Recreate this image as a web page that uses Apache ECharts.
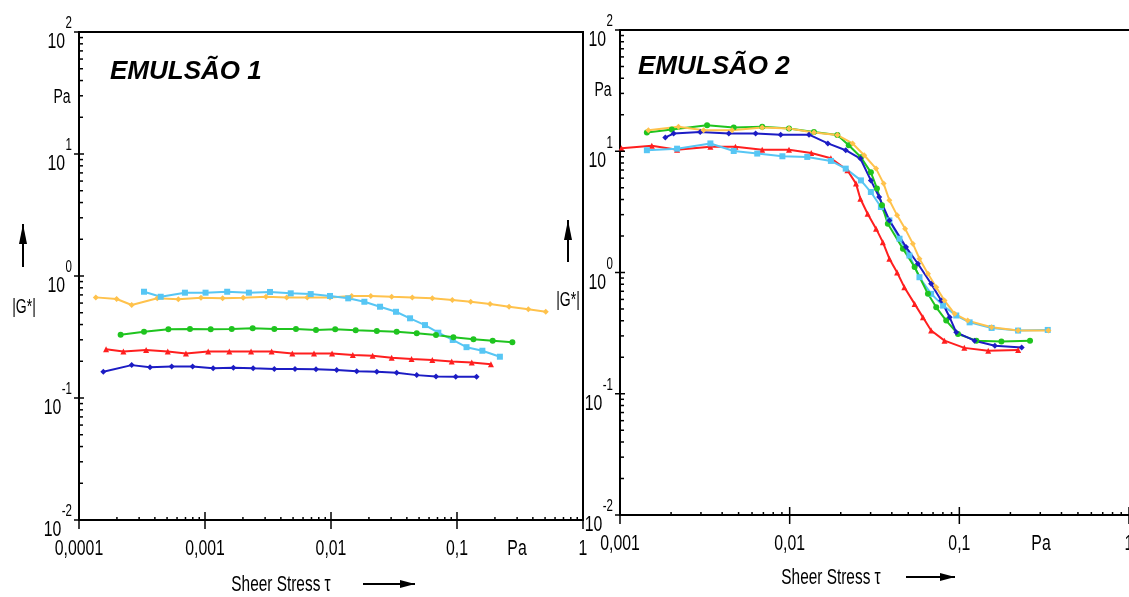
<!DOCTYPE html>
<html>
<head>
<meta charset="utf-8">
<script src="https://cdn.jsdelivr.net/npm/echarts@6/dist/echarts.min.js"></script>
<style>
html,body{margin:0;padding:0;background:#fff;}
#chart{width:1129px;height:597px;}
</style>
</head>
<body>
<div id="chart"></div>
<script>
// ---------- DATA ----------
const xTickValues1 = [0.0001, 0.001, 0.01, 0.1, 1];
const xTickLabels1 = ['0,0001', '0,001', '0,01', '0,1', '1'];
const xTickValues2 = [0.001, 0.01, 0.1, 1];
const xTickLabels2 = ['0,001', '0,01', '0,1', '1'];
const yTickValues = [0.01, 0.1, 1, 10, 100];
const yTickExps = ['-2', '-1', '0', '1', '2'];

const panelTitles = ['EMULSÃO 1', 'EMULSÃO 2'];
const xAxisTitle = 'Sheer Stress τ';
const yAxisTitle = '|G*|';
const unitLabel = 'Pa';

// EMULSÃO 1
const e1_orange_x = [1.36e-4, 1.99e-4, 2.62e-4, 4.18e-4, 6.14e-4, 9.29e-4, 1.38e-3, 2.01e-3, 3.05e-3, 4.45e-3, 6.48e-3, 9.82e-3, 0.0146, 0.0207, 0.0303, 0.0442, 0.0637, 0.0918, 0.1285, 0.183, 0.259, 0.368, 0.506];
const e1_orange_y = [0.668, 0.648, 0.578, 0.656, 0.644, 0.664, 0.656, 0.664, 0.676, 0.668, 0.668, 0.668, 0.686, 0.686, 0.676, 0.668, 0.656, 0.635, 0.615, 0.589, 0.560, 0.533, 0.510];
const e1_lblue_x = [3.28e-4, 4.45e-4, 6.93e-4, 1.01e-3, 1.50e-3, 2.23e-3, 3.28e-3, 4.79e-3, 6.90e-3, 9.82e-3, 0.0137, 0.0184, 0.0245, 0.0328, 0.0424, 0.0557, 0.0711, 0.0925, 0.119, 0.159, 0.219];
const e1_lblue_y = [0.743, 0.676, 0.730, 0.730, 0.743, 0.730, 0.740, 0.721, 0.711, 0.686, 0.656, 0.615, 0.560, 0.509, 0.450, 0.396, 0.343, 0.299, 0.261, 0.244, 0.218];
const e1_green_x = [2.14e-4, 3.28e-4, 5.12e-4, 7.60e-4, 1.11e-3, 1.63e-3, 2.39e-3, 3.55e-3, 5.27e-3, 7.60e-3, 0.0108, 0.0157, 0.0231, 0.0332, 0.0479, 0.0681, 0.0936, 0.135, 0.192, 0.275];
const e1_green_y = [0.330, 0.349, 0.366, 0.368, 0.366, 0.368, 0.373, 0.368, 0.368, 0.361, 0.366, 0.359, 0.354, 0.349, 0.339, 0.328, 0.315, 0.303, 0.295, 0.286];
const e1_red_x = [1.64e-4, 2.25e-4, 3.41e-4, 5.06e-4, 7.06e-4, 1.06e-3, 1.56e-3, 2.32e-3, 3.38e-3, 4.93e-3, 7.33e-3, 0.0102, 0.0149, 0.0214, 0.0303, 0.0436, 0.0637, 0.0908, 0.131, 0.186];
const e1_red_y = [0.251, 0.240, 0.247, 0.240, 0.232, 0.240, 0.240, 0.240, 0.240, 0.232, 0.232, 0.232, 0.225, 0.222, 0.214, 0.209, 0.205, 0.199, 0.195, 0.189];
const e1_blue_x = [1.56e-4, 2.62e-4, 3.66e-4, 5.44e-4, 7.98e-4, 1.16e-3, 1.68e-3, 2.41e-3, 3.55e-3, 5.18e-3, 7.60e-3, 0.0111, 0.0160, 0.0231, 0.0332, 0.0479, 0.0681, 0.0977, 0.143];
const e1_blue_y = [0.164, 0.186, 0.179, 0.181, 0.181, 0.175, 0.177, 0.175, 0.173, 0.173, 0.172, 0.170, 0.166, 0.164, 0.161, 0.154, 0.150, 0.149, 0.149];

// EMULSÃO 2
const e2_red_x = [1.02e-3, 1.54e-3, 2.17e-3, 3.41e-3, 4.79e-3, 6.89e-3, 9.91e-3, 0.0134, 0.0175, 0.0219, 0.0246, 0.0261, 0.0288, 0.0323, 0.0354, 0.0387, 0.0430, 0.0474, 0.0545, 0.0610, 0.0682, 0.0818, 0.107, 0.148, 0.222];
const e2_red_y = [10.6, 11.1, 10.3, 10.9, 10.9, 10.3, 10.3, 9.68, 8.75, 6.97, 5.41, 4.06, 3.05, 2.30, 1.78, 1.30, 1.00, 0.757, 0.551, 0.427, 0.332, 0.274, 0.239, 0.226, 0.230];
const e2_lblue_x = [1.44e-3, 2.17e-3, 3.41e-3, 4.68e-3, 6.44e-3, 9.06e-3, 0.0127, 0.0175, 0.0214, 0.0263, 0.0301, 0.0345, 0.0387, 0.0444, 0.0508, 0.0582, 0.0682, 0.0802, 0.0959, 0.115, 0.155, 0.222, 0.332];
const e2_lblue_y = [10.2, 10.5, 11.6, 10.05, 9.57, 9.09, 8.98, 8.32, 7.19, 5.75, 4.61, 3.47, 2.69, 1.90, 1.38, 0.914, 0.667, 0.533, 0.442, 0.388, 0.349, 0.332, 0.336];
const e2_green_x = [1.44e-3, 2.02e-3, 3.26e-3, 4.68e-3, 6.89e-3, 9.91e-3, 0.0139, 0.0191, 0.0223, 0.0263, 0.0301, 0.0327, 0.0350, 0.0379, 0.0465, 0.0545, 0.0653, 0.0731, 0.0837, 0.0982, 0.126, 0.177, 0.261];
const e2_green_y = [14.3, 15.1, 16.4, 15.7, 15.9, 15.4, 14.4, 13.6, 11.2, 8.91, 6.70, 4.94, 3.58, 2.52, 1.57, 1.11, 0.667, 0.516, 0.401, 0.311, 0.274, 0.270, 0.274];
const e2_blue_x = [1.85e-3, 2.07e-3, 2.97e-3, 4.38e-3, 6.30e-3, 8.85e-3, 0.0130, 0.0168, 0.0214, 0.0261, 0.0301, 0.0337, 0.0387, 0.0485, 0.0570, 0.0682, 0.0782, 0.0877, 0.0959, 0.123, 0.162, 0.233];
const e2_blue_y = [13.0, 14.0, 14.4, 14.0, 14.0, 13.7, 13.7, 11.6, 10.2, 8.71, 5.75, 4.19, 2.69, 1.62, 1.18, 0.807, 0.587, 0.427, 0.321, 0.274, 0.249, 0.241];
const e2_orange_x = [1.47e-3, 2.21e-3, 3.11e-3, 4.58e-3, 6.89e-3, 9.91e-3, 0.0139, 0.0191, 0.0235, 0.0275, 0.0323, 0.0358, 0.0387, 0.0430, 0.0479, 0.0532, 0.0582, 0.0653, 0.0731, 0.0818, 0.0938, 0.112, 0.155, 0.222, 0.335];
const e2_orange_y = [14.9, 15.9, 14.9, 14.9, 15.7, 15.4, 14.3, 13.6, 11.6, 9.27, 7.19, 5.41, 3.94, 2.96, 2.30, 1.73, 1.30, 0.976, 0.757, 0.587, 0.456, 0.401, 0.353, 0.332, 0.332];

// ---------- STYLE ----------
const C = {orange:'#FFC24C', lblue:'#57C6F4', green:'#1FC41F', red:'#FF1F1F', blue:'#1C1CC4'};
const SYM = {orange:'diamond', lblue:'rect', green:'circle', red:'triangle', blue:'diamond'};
const FAM = "'Liberation Sans', Arial, sans-serif";
const SQUEEZE = 0.72;

function zip(xs, ys){ return xs.map((x,i)=>[x, ys[i]]); }
function mk(name, key, xs, ys, gi){
  return {
    name: name, type:'line', xAxisIndex: gi, yAxisIndex: gi,
    data: zip(xs, ys), symbol: SYM[key], symbolSize: 6,
    lineStyle:{color:C[key], width:2}, itemStyle:{color:C[key]},
    animation:false, z: 3
  };
}
function expOf(v){ return Math.round(Math.log10(v)); }

function xAxisDef(gi, min, max){
  return {
    type:'log', logBase:10, gridIndex:gi, min:min, max:max, position:'bottom',
    axisLine:{show:true, onZero:false, lineStyle:{color:'#000', width:2}},
    axisTick:{show:false}, splitLine:{show:false}, minorTick:{show:false},
    axisLabel:{show:false}
  };
}
function yAxisDef(gi){
  return {
    type:'log', logBase:10, gridIndex:gi, min:0.01, max:100,
    axisLine:{show:true, onZero:false, lineStyle:{color:'#000', width:2}},
    axisTick:{show:false}, splitLine:{show:false}, axisLabel:{show:false}
  };
}

const chart = echarts.init(document.getElementById('chart'), null, {renderer:'canvas'});
const option = {
  animation:false,
  backgroundColor:'#fff',
  grid:[
    {left:79, top:32, width:504, height:488, show:true, borderColor:'#000', borderWidth:2, backgroundColor:'transparent'},
    {left:620, top:30, width:509, height:485, show:false}
  ],
  xAxis:[
    xAxisDef(0, 0.0001, 1),
    xAxisDef(1, 0.001, 1),
    {type:'log', logBase:10, gridIndex:1, min:0.001, max:1, position:'top',
     axisLine:{show:true, onZero:false, lineStyle:{color:'#000', width:2}},
     axisTick:{show:false}, axisLabel:{show:false}, splitLine:{show:false}}
  ],
  yAxis:[ yAxisDef(0), yAxisDef(1) ],
  series:[
    mk('orange', 'orange', e1_orange_x, e1_orange_y, 0),
    mk('lightblue', 'lblue', e1_lblue_x, e1_lblue_y, 0),
    mk('green', 'green', e1_green_x, e1_green_y, 0),
    mk('red', 'red', e1_red_x, e1_red_y, 0),
    mk('blue', 'blue', e1_blue_x, e1_blue_y, 0),
    mk('red', 'red', e2_red_x, e2_red_y, 1),
    mk('lightblue', 'lblue', e2_lblue_x, e2_lblue_y, 1),
    mk('green', 'green', e2_green_x, e2_green_y, 1),
    mk('blue', 'blue', e2_blue_x, e2_blue_y, 1),
    mk('orange', 'orange', e2_orange_x, e2_orange_y, 1)
  ]
};
chart.setOption(option);

// ---------- decorations: ticks and labels placed through the axis scales ----------
const g = [];
function line(x1,y1,x2,y2,w){
  g.push({type:'line', silent:true, z:10, shape:{x1:x1,y1:y1,x2:x2,y2:y2}, style:{stroke:'#000', lineWidth:w||1.5}});
}
function text(t, x, y, size, align, sx, weight){
  g.push({type:'text', silent:true, z:10, x:x, y:y, scaleX: (sx==null ? SQUEEZE : sx),
    style:{text:t, x:0, y:0, font:(weight||'') + ' ' + size + 'px ' + FAM, fill:'#000',
      textAlign:align||'left', align:align||'left', textVerticalAlign:'middle', verticalAlign:'middle'}});
}
function supWidth(s, size){
  let w = 0;
  for (const ch of s) w += (ch === '-' ? 0.333 : 0.556);
  return w * size * SQUEEZE;
}
function axisDecor(xi, yi, xmin, xmax, xVals, xLabels){
  const axisY = chart.convertToPixel({yAxisIndex:yi}, yTickValues[0]);
  const axisX = chart.convertToPixel({xAxisIndex:xi}, xmin);
  for (let e = expOf(xmin); e <= expOf(xmax); e++){
    const base = Math.pow(10, e);
    const px = chart.convertToPixel({xAxisIndex:xi}, base);
    line(px, axisY-8, px, axisY+9, 1.5);
    if (e < expOf(xmax)) for (let m=2; m<=9; m++){
      const p = chart.convertToPixel({xAxisIndex:xi}, m*base);
      line(p, axisY, p, axisY-3, 1.5);
    }
  }
  xVals.forEach((v, i) => {
    const px = chart.convertToPixel({xAxisIndex:xi}, v);
    text(xLabels[i], px, axisY + 29, 22, 'center');
  });
  for (let e = expOf(yTickValues[0]); e <= expOf(yTickValues[yTickValues.length-1]); e++){
    const base = Math.pow(10, e);
    const py = chart.convertToPixel({yAxisIndex:yi}, base);
    line(axisX-5, py, axisX+5, py, 1.5);
    if (e < expOf(yTickValues[yTickValues.length-1])) for (let m=2; m<=9; m++){
      const p = chart.convertToPixel({yAxisIndex:yi}, m*base);
      line(axisX, p, axisX+4, p, 1.5);
    }
  }
  yTickValues.forEach((v, i) => {
    const py = chart.convertToPixel({yAxisIndex:yi}, v);
    const sup = yTickExps[i];
    const supRight = axisX - 7;
    text(sup, supRight, py - 8, 16, 'right');
    text('10', supRight - supWidth(sup, 16) - 0.5, py + 10, 22, 'right');
  });
}
axisDecor(0, 0, xTickValues1[0], xTickValues1[xTickValues1.length-1], xTickValues1, xTickLabels1);
axisDecor(1, 1, xTickValues2[0], xTickValues2[xTickValues2.length-1], xTickValues2, xTickLabels2);

text(panelTitles[0], 110, 72, 26, 'left', 1, 'italic bold');
text(panelTitles[1], 638, 67, 26, 'left', 1, 'italic bold');

text(unitLabel, 62, 97, 20, 'center', 0.7);
text(unitLabel, 603, 90, 20, 'center', 0.7);
text(unitLabel, 517, 549, 22, 'center');
text(unitLabel, 1041, 544, 22, 'center');
text(yAxisTitle, 24, 307, 20, 'center', 0.7);
text(yAxisTitle, 568, 300, 20, 'center', 0.7);
text(xAxisTitle, 281, 585, 22, 'center', 0.7);
text(xAxisTitle, 831, 578, 22, 'center', 0.7);

// vertical arrows next to |G*|
function vArrow(x, yb, yt){
  line(x, yb, x, yt, 2);
  g.push({type:'polygon', silent:true, z:10, shape:{points:[[x, yt],[x-4, yt+20],[x+4, yt+20]]}, style:{fill:'#000'}});
}
vArrow(23, 267, 224);
vArrow(568, 262, 220);
// horizontal arrows next to Sheer Stress
function hArrow(xl, xr, y){
  line(xl, y, xr, y, 2);
  g.push({type:'polygon', silent:true, z:10, shape:{points:[[xr, y],[xr-15, y-4],[xr-15, y+4]]}, style:{fill:'#000'}});
}
hArrow(363, 415, 584);
hArrow(906, 955, 577);

chart.setOption({graphic: g});
</script>
</body>
</html>
